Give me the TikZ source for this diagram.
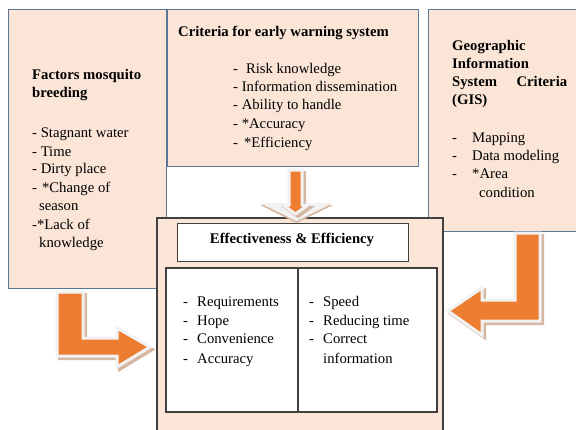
\documentclass[tikz,border=0pt]{standalone}
\usepackage{fontspec}
\setmainfont{Liberation Serif}
\definecolor{peach}{HTML}{FBE5D6}
\definecolor{boxblue}{HTML}{5A7896}
\definecolor{darkline}{HTML}{404040}
\definecolor{arroworange}{HTML}{ED7D31}
\definecolor{outlinewhite}{HTML}{F2F2F2}
\definecolor{shadowtan}{HTML}{D5B8A4}
\newcommand\dashitem[2]{\makebox[#1][l]{-}#2}
\begin{document}
\begin{tikzpicture}[x=1pt,y=-1pt,
  topbox/.style={fill=peach, draw=boxblue, line width=1pt},
  mainbox/.style={fill=peach, draw=darkline, line width=1.4pt},
  innerbox/.style={fill=white, draw=darkline, line width=1.2pt},
  txt/.style={anchor=base west, inner sep=0pt, font=\fontsize{14.7}{18}\selectfont},
  btxt/.style={anchor=base west, inner sep=0pt, font=\fontsize{14.7}{18}\selectfont\bfseries},
  blockarrow/.style={fill=arroworange, draw=outlinewhite, line width=3pt, line join=miter,
    preaction={fill=shadowtan, draw=shadowtan, line width=3pt,
      transform canvas={shift={(2.5pt,-2.5pt)}}}},
  halo/.style={fill=outlinewhite,
    preaction={fill=shadowtan, transform canvas={shift={(0pt,-2pt)}}}}
]
\useasboundingbox (0,0) rectangle (576,429);
\clip (0,0) rectangle (576,429);
\fill[white] (0,0) rectangle (576,429);

% top boxes
\draw[topbox] (8,9) rectangle (166,288);
\draw[topbox] (167,9) rectangle (418,166);
\draw[topbox] (428,9) rectangle (590,231);

% central box
\draw[mainbox] (157,218) rectangle (443,445);
\node[draw=darkline, line width=1.2pt, fill=white, minimum width=231pt, minimum height=38pt,
  inner sep=0pt, anchor=north west] (title) at (177,223) {};
\draw[innerbox] (166,268) rectangle (298,412);
\draw[innerbox] (298,268) rectangle (437,412);

% left box text
\node[btxt] (f1) at (32,79) {Factors mosquito};
\node[btxt] (f2) at (32,97) {breeding};
\node[txt] (f3) at (32,137) {- Stagnant water};
\node[txt] (f4) at (32,156) {- Time};
\node[txt] (f5) at (32,173) {- Dirty place};
\node[txt] (f6) at (32,192) {-\hspace{5pt}*Change of};
\node[txt] (f7) at (39,210) {season};
\node[txt] (f8) at (32,229) {-*Lack of};
\node[txt] (f9) at (39,247) {knowledge};

% middle box text
\node[btxt] (c1) at (178,36) {Criteria for early warning system};
\node[txt] (c2) at (233,73) {-\hspace{8pt}Risk knowledge};
\node[txt] (c3) at (233,91) {- Information dissemination};
\node[txt] (c4) at (233,109) {- Ability to handle};
\node[txt] (c5) at (233,128) {- *Accuracy};
\node[txt] (c6) at (233,147) {-\hspace{6pt}*Efficiency};

% right box text
\node[btxt] (g1) at (452,50) {Geographic};
\node[btxt] (g2) at (452,68) {Information};
\node[btxt] (g3) at (452,86) {\makebox[115pt][l]{System\hfill Criteria}};
\node[btxt] (g4) at (452,104) {(GIS)};
\node[txt] (g5) at (452,142) {\dashitem{20pt}{Mapping}};
\node[txt] (g6) at (452,160) {\dashitem{20pt}{Data modeling}};
\node[txt] (g7) at (452,178) {\dashitem{20pt}{*Area}};
\node[txt] (g8) at (479,197) {condition};

% central text
\node[inner sep=0pt, font=\fontsize{14.7}{18}\selectfont\bfseries, anchor=base] (t1) at (292,243) {Effectiveness \& Efficiency};
\node[txt] (e1) at (183,306) {\dashitem{14pt}{Requirements}};
\node[txt] (e2) at (183,325) {\dashitem{14pt}{Hope}};
\node[txt] (e3) at (183,343) {\dashitem{14pt}{Convenience}};
\node[txt] (e4) at (183,363) {\dashitem{14pt}{Accuracy}};
\node[txt] (s1) at (309,306) {\dashitem{14pt}{Speed}};
\node[txt] (s2) at (309,325) {\dashitem{14pt}{Reducing time}};
\node[txt] (s3) at (309,343) {\dashitem{14pt}{Correct}};
\node[txt] (s4) at (323,363) {information};

% block arrows
\path[halo] (260,203) -- (333,203) -- (296.5,221) -- cycle;
\path[blockarrow] (289,170) -- (302,170) -- (302,205) -- (308,205) -- (295.5,214) -- (283,205) -- (289,205) -- cycle;
\path[blockarrow] (57,292) -- (83,292) -- (83,338) -- (117,338) -- (117,328) -- (150,347) -- (117,367) -- (117,356) -- (57,356) -- cycle;
\path[blockarrow] (540,233) -- (515,233) -- (515,300) -- (482,300) -- (482,288) -- (448,311) -- (482,335) -- (482,321) -- (540,321) -- cycle;
\end{tikzpicture}
\end{document}
